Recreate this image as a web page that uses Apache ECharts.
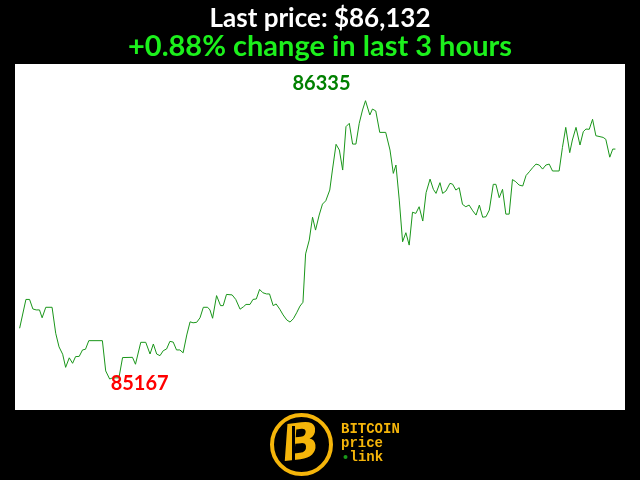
<!DOCTYPE html>
<html>
<head>
<meta charset="utf-8">
<script src="https://cdn.jsdelivr.net/npm/echarts@6/dist/echarts.min.js"></script>
<style>
html,body{margin:0;padding:0;background:#000;}
#chart{width:640px;height:480px;}
</style>
</head>
<body>
<div id="chart"></div>
<script>
// minutes since start of window
const minutes = [0,1.9,3.0,4.0,5.0,6.0,6.8,7.9,9.8,10.9,11.9,13.0,13.9,15.0,16.0,16.9,18.0,19.0,19.9,20.9,
25.0,26.0,27.2,28.1,30.0,31.1,34.1,35.0,36.6,38.1,39.4,40.4,41.4,42.4,43.4,44.4,45.4,46.4,47.4,48.4,
49.4,50.5,51.5,52.4,53.5,54.5,55.5,56.8,57.5,58.3,59.5,60.7,61.5,62.5,64.2,65.3,66.6,67.6,68.4,69.6,
70.5,71.5,72.5,73.5,74.6,75.5,76.6,77.5,78.6,79.6,80.7,81.7,82.7,83.7,84.7,85.6,86.4,87.5,88.5,89.4,
90.5,91.5,92.5,93.7,94.5,95.6,96.6,97.6,98.6,99.6,100.6,101.6,102.6,103.6,104.5,105.8,106.6,107.6,108.8,110.6,
111.9,112.9,113.7,114.7,115.7,116.7,117.7,118.7,119.7,120.7,121.8,122.8,124.0,125.0,125.8,127.0,127.8,128.8,130.0,130.8,
131.8,132.8,133.8,134.8,135.8,136.9,137.9,138.9,139.9,140.9,141.9,143.1,143.9,144.9,145.9,146.9,147.9,148.9,149.9,150.9,
152.0,153.0,154.0,155.0,156.0,157.0,158.0,159.0,160.0,161.0,163.0,164.0,165.0,166.2,167.0,168.1,169.3,170.3,171.1,172.1,
173.1,174.1,176.3,177.1,178.3,179.2,180.0];
const prices = [85380,85501,85501,85461,85457,85457,85424,85468,85468,85359,85302,85271,85216,85256,85233,85261,85262,85289,85292,85328,
85328,85201,85167,85172,85172,85257,85258,85229,85321,85321,85272,85314,85272,85265,85286,85293,85325,85322,85289,85289,
85277,85352,85407,85403,85405,85424,85468,85468,85457,85422,85517,85475,85475,85522,85520,85501,85460,85470,85480,85480,
85501,85503,85543,85529,85524,85524,85475,85482,85460,85436,85415,85406,85420,85445,85473,85489,85692,85750,85846,85792,
85855,85901,85915,85960,86044,86152,86128,86044,86226,86240,86153,86153,86240,86296,86335,86275,86300,86292,86202,86202,
86128,86030,86065,85918,85743,85781,85729,85867,85862,85890,85830,85949,86006,85963,85946,85991,85946,85956,85988,85985,
85960,85970,85900,85890,85897,85873,85855,85897,85846,85848,85876,85984,85984,85928,85963,85859,85859,86004,85995,85981,
85977,86021,86037,86054,86069,86065,86048,86065,86069,86040,86040,86139,86223,86117,86170,86223,86149,86205,86216,86215,
86257,86188,86181,86173,86098,86132,86132];
const titleText = 'Last price: $86,132';
const subtitleText = '+0.88% change in last 3 hours';
const logoLines = ['BITCOIN', 'price', 'link'];

const seriesData = minutes.map((m, i) => [m, prices[i]]);
const chart = echarts.init(document.getElementById('chart'), null, {renderer: 'canvas'});
const orange = '#f5b50a';
chart.setOption({
  backgroundColor: '#000',
  animation: false,
  title: [
    {text: titleText, left: 'center', top: 1,
     textStyle: {color: '#fff', fontFamily: 'Lato', fontWeight: 'bold', fontSize: 26}},
    {text: subtitleText, left: 'center', top: 27,
     textStyle: {color: '#1cf01c', fontFamily: 'Lato', fontWeight: 'bold', fontSize: 29}}
  ],
  grid: {left: 15, right: 15, top: 64, bottom: 70, show: true, backgroundColor: '#fff', borderWidth: 0},
  xAxis: {type: 'value', min: -1.4, max: 182.9, show: false},
  yAxis: {type: 'value', min: 85037, max: 86489, show: false},
  series: [{
    type: 'line', data: seriesData, symbol: 'none',
    lineStyle: {color: '#1a961a', width: 1},
    markPoint: {
      symbol: 'circle', symbolSize: 0,
      data: [
        {type: 'max', label: {show: true, formatter: '{c}', offset: [-44, -17], color: '#008000',
          fontFamily: 'Lato', fontWeight: 'bold', fontSize: 20}},
        {type: 'min', label: {show: true, formatter: '{c}', offset: [30, 5], color: '#ff0000',
          fontFamily: 'Lato', fontWeight: 'bold', fontSize: 20}}
      ]
    }
  }],
  graphic: [
    {type: 'circle', shape: {cx: 301.5, cy: 444.5, r: 29.5}, style: {fill: '#000', stroke: orange, lineWidth: 4}},
    {type: 'text', x: 301, y: 446, rotation: 0.12, style: {text: 'B', fill: orange, font: 'italic 900 50px "DejaVu Sans"', align: 'center', verticalAlign: 'middle'}},
    {type: 'rect', shape: {x: 292, y: 426, width: 3, height: 36}, rotation: 0, style: {fill: '#000'}},
    {type: 'text', x: 341, y: 429, style: {text: logoLines[0], fill: orange, font: 'bold 14px "Liberation Mono"', verticalAlign: 'middle'}},
    {type: 'text', x: 341, y: 443, style: {text: logoLines[1], fill: orange, font: 'bold 14px "Liberation Mono"', verticalAlign: 'middle'}},
    {type: 'circle', shape: {cx: 345.5, cy: 457, r: 2}, style: {fill: '#1a9a1a'}},
    {type: 'text', x: 349.5, y: 457, style: {text: logoLines[2], fill: orange, font: 'bold 14px "Liberation Mono"', verticalAlign: 'middle'}}
  ]
});
</script>
</body>
</html>
